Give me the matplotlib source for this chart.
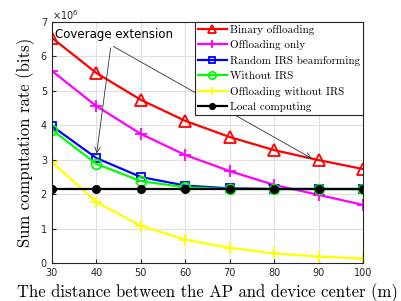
import matplotlib.pyplot as plt
import numpy as np

# distances (m)
dist = [30, 40, 50, 60, 70, 80, 90, 100]

binary_off = [6.54, 5.52, 4.74, 4.13, 3.66, 3.28, 2.99, 2.73]
off_only = [5.58, 4.56, 3.75, 3.14, 2.67, 2.27, 1.98, 1.69]
random_irs = [3.98, 3.05, 2.50, 2.25, 2.17, 2.15, 2.15, 2.15]
without_irs = [3.87, 2.88, 2.38, 2.20, 2.15, 2.15, 2.15, 2.15]
off_without_irs = [2.93, 1.78, 1.08, 0.68, 0.44, 0.28, 0.19, 0.13]
local_comp = [2.15, 2.15, 2.15, 2.15, 2.15, 2.15, 2.15, 2.15]

scale = 1e6

fig = plt.figure(figsize=(4.02, 3.01), dpi=100)
ax = fig.add_axes([0.129, 0.126, 0.774, 0.801])

lw = 1.6
ax.plot(dist, np.array(binary_off) * scale, color='red', lw=lw, marker='^', ms=8,
        mfc='none', mew=1.3, label='Binary offloading')
ax.plot(dist, np.array(off_only) * scale, color='magenta', lw=lw, marker='+', ms=8,
        mew=1.3, label='Offloading only')
ax.plot(dist, np.array(random_irs) * scale, color='blue', lw=lw, marker='s', ms=6,
        mfc='none', mew=1.3, label='Random IRS beamforming')
ax.plot(dist, np.array(without_irs) * scale, color='#00ff00', lw=lw, marker='o', ms=7,
        mfc='none', mew=1.3, label='Without IRS')
ax.plot(dist, np.array(off_without_irs) * scale, color='yellow', lw=lw, marker='+', ms=8,
        mew=1.3, label='Offloading without IRS')
ax.plot(dist, np.array(local_comp) * scale, color='black', lw=lw, marker='o', ms=5.5,
        label='Local computing')

ax.set_xlim(30, 100)
ax.set_ylim(0, 7e6)
ax.set_xticks(dist)
ax.set_yticks(np.arange(0, 8) * scale)
ax.set_yticklabels([str(i) for i in range(8)])
ax.tick_params(labelsize=7, colors='#262626', direction='in', length=3)
ax.text(0.0, 1.01, r'$\times10^6$', transform=ax.transAxes, fontsize=7, color='#262626')
ax.grid(True, color='#e0e0e0', lw=0.7)
for s in ax.spines.values():
    s.set_color('#262626')
    s.set_linewidth(0.8)

ax.set_xlabel('The distance between the AP and device center (m)', fontfamily='cmr10', fontsize=12)
ax.set_ylabel('Sum computation rate (bits)', fontfamily='cmr10', fontsize=12)

# annotation
start = (43.3, 6.33e6)
ax.text(30.7, 6.64e6, 'Coverage extension', fontsize=8.5, va='center')
ax.annotate('', xy=(40, 3.1e6), xytext=start,
            arrowprops=dict(arrowstyle='->', color='#333333', lw=0.6))
ax.annotate('', xy=(89, 3.0e6), xytext=start,
            arrowprops=dict(arrowstyle='->', color='#333333', lw=0.6))

leg = ax.legend(loc='upper right', prop={'family': 'cmr10', 'size': 8}, fancybox=False,
                edgecolor='#262626', framealpha=1, borderaxespad=0, handlelength=2.6,
                labelspacing=0.5, borderpad=0.25, handletextpad=0.3, markerscale=0.75)
leg.get_frame().set_linewidth(0.8)

fig.savefig('out.png', dpi=100)
